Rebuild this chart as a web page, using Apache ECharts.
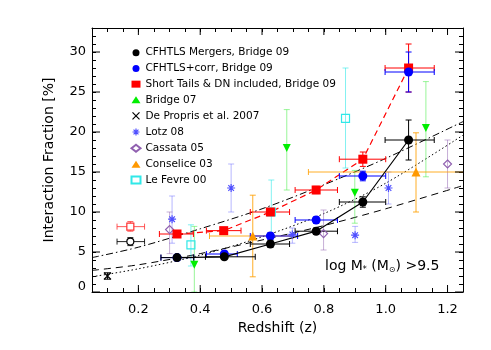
<!DOCTYPE html>
<html>
<head>
<meta charset="utf-8">
<script src="https://cdn.jsdelivr.net/npm/echarts@6/dist/echarts.min.js"></script>
<style>html,body{margin:0;padding:0;background:#fff}#c{width:491px;height:350px}</style>
</head>
<body>
<div id="c"></div>
<script>
// ---------- data ----------
// CFHTLS Mergers, Bridge 09 (black filled circles)
const blkZ   = [0.325, 0.478, 0.627, 0.775, 0.926, 1.074];
const blkF   = [4.3, 4.4, 6.0, 7.6, 11.25, 19.0];
const blkZlo = [0.273, 0.417, 0.562, 0.707, 0.850, 0.998];
const blkZhi = [0.379, 0.578, 0.689, 0.844, 1.000, 1.157];
const blkFlo = [4.0, 4.1, 5.6, 7.2, 10.6, 16.5];
const blkFhi = [4.6, 4.7, 6.4, 8.0, 11.9, 21.5];
// CFHTLS+corr, Bridge 09 (blue filled circles)
const bluZ   = [0.325, 0.478, 0.627, 0.775, 0.926, 1.074];
const bluF   = [4.3, 4.75, 7.0, 9.0, 14.5, 27.5];
const bluZlo = [0.273, 0.420, 0.562, 0.707, 0.850, 0.998];
const bluZhi = [0.379, 0.520, 0.715, 0.844, 1.000, 1.157];
const bluFlo = [4.0, 4.4, 6.6, 8.6, 13.9, 25.0];
const bluFhi = [4.6, 5.1, 7.4, 9.4, 15.1, 30.0];
// Short Tails & DN included, Bridge 09 (red squares)
const redZ   = [0.325, 0.476, 0.627, 0.775, 0.926, 1.074];
const redF   = [7.25, 7.67, 10.0, 12.75, 16.6, 28.0];
const redZlo = [0.268, 0.420, 0.562, 0.707, 0.850, 0.998];
const redZhi = [0.378, 0.532, 0.689, 0.844, 1.000, 1.157];
const redFlo = [6.9, 7.3, 9.6, 12.3, 15.7, 25.0];
const redFhi = [7.6, 8.0, 10.4, 13.2, 17.5, 31.0];
// local open symbols (z ~ 0.17)
const locRedZ = [0.174]; const locRedF = [8.17]; const locRedZlo = [0.131]; const locRedZhi = [0.220]; const locRedFlo = [7.6]; const locRedFhi = [8.8];
const locBlkZ = [0.174]; const locBlkF = [6.3];  const locBlkZlo = [0.131]; const locBlkZhi = [0.220]; const locBlkFlo = [5.8]; const locBlkFhi = [6.8];
// Bridge 07 (green down triangles)
const grnZ   = [0.381, 0.680, 0.900, 1.130];
const grnF   = [3.4, 18.0, 12.4, 20.5];
const grnFlo = [0.0, 12.75, 8.6, 14.4];
const grnFhi = [8.2, 22.8, 15.2, 26.3];
// De Propris et al. 2007 (black X)
const dpZ = [0.10]; const dpF = [2.0]; const dpFlo = [1.6]; const dpFhi = [2.4];
// Lotz 08 (blue asterisks)
const lotZ   = [0.309, 0.500, 0.698, 0.901, 1.009];
const lotF   = [9.1, 13.0, 7.2, 7.1, 13.0];
const lotFlo = [6.1, 10.0, 6.1, 6.2, 11.0];
const lotFhi = [12.0, 16.0, 8.0, 8.2, 15.0];
// Cassata 05 (purple open diamonds)
const casZ   = [0.301, 0.799, 1.200];
const casF   = [7.8, 7.3, 16.0];
const casFlo = [4.8, 5.25, 13.0];
const casFhi = [10.0, 10.25, 19.0];
// Conselice 03 (orange triangles)
const conZ   = [0.570, 1.098];
const conF   = [7.0, 15.0];
const conZlo = [0.430, 0.750];
const conZhi = [0.700, 1.450];
const conFlo = [1.9, 10.0];
const conFhi = [12.1, 19.9];
// Le Fevre 00 (cyan open squares)
const lfZ   = [0.370, 0.630, 0.870];
const lfF   = [5.9, 10.0, 21.7];
const lfFlo = [3.25, 6.0, 15.5];
const lfFhi = [8.4, 14.0, 28.0];
// model curves
const curveZ  = [0.05, 0.2, 0.4, 0.6, 0.8, 1.0, 1.25];
const dashDotF = [4.3, 5.6, 7.9, 10.4, 13.4, 16.7, 21.3];
const dottedF  = [1.9, 2.9, 4.6, 6.9, 9.8, 13.6, 19.6];
const dashedF  = [2.7, 3.4, 4.8, 6.5, 8.3, 10.4, 13.3];
// axis ticks
const xMajor = [0.2, 0.4, 0.6, 0.8, 1.0, 1.2];
const yMajor = [0, 5, 10, 15, 20, 25, 30];
const xMin = 0.05, xMax = 1.25, yMin = 0, yMax = 33;

// ---------- helpers ----------
const FONT = 'DejaVu Sans';
function zip() { const a = arguments; return a[0].map((_, i) => Array.from(a, arr => arr ? arr[i] : '-')); }
function errSeries(name, rows, color, opacity) {
  return {
    type: 'custom', name: name, clip: true, z: 2, silent: true,
    data: rows,
    encode: { x: 0, y: 1 },
    renderItem: function (params, api) {
      const x = api.value(0), y = api.value(1);
      const xl = api.value(2), xh = api.value(3), yl = api.value(4), yh = api.value(5);
      const st = { stroke: color, lineWidth: 1, opacity: opacity };
      const ch = []; const cap = 3;
      if (!isNaN(xl) && !isNaN(xh)) {
        const a = api.coord([xl, y]), b = api.coord([xh, y]);
        ch.push({ type: 'line', shape: { x1: a[0], y1: a[1], x2: b[0], y2: b[1] }, style: st });
        ch.push({ type: 'line', shape: { x1: a[0], y1: a[1] - cap, x2: a[0], y2: a[1] + cap }, style: st });
        ch.push({ type: 'line', shape: { x1: b[0], y1: b[1] - cap, x2: b[0], y2: b[1] + cap }, style: st });
      }
      if (!isNaN(yl) && !isNaN(yh)) {
        const a = api.coord([x, yl]), b = api.coord([x, yh]);
        ch.push({ type: 'line', shape: { x1: a[0], y1: a[1], x2: b[0], y2: b[1] }, style: st });
        ch.push({ type: 'line', shape: { x1: a[0] - cap, y1: a[1], x2: a[0] + cap, y2: a[1] }, style: st });
        ch.push({ type: 'line', shape: { x1: b[0] - cap, y1: b[1], x2: b[0] + cap, y2: b[1] }, style: st });
      }
      return { type: 'group', children: ch };
    }
  };
}
function pts(z, f) { return z.map((v, i) => [v, f[i]]); }
function scat(name, z, f, symbol, size, color, border, extra) {
  return Object.assign({
    type: 'scatter', name: name, data: pts(z, f), symbol: symbol, symbolSize: size, z: 5,
    itemStyle: { color: color, borderColor: border || color, borderWidth: border ? 1.2 : 0, opacity: 1 }
  }, extra || {});
}
const none = z => z.map(() => '-');

const X_SYM = 'path://M0,0L10,10M10,0L0,10';
const AST_SYM = 'path://M5,0L5,10M0,5L10,5M1.5,1.5L8.5,8.5M8.5,1.5L1.5,8.5';

const chart = echarts.init(document.getElementById('c'), null, { renderer: 'canvas' });
const grid = { left: 92, right: 28, top: 28, bottom: 58 };

const series = [
  { type: 'line', name: 'dashdot', data: pts(curveZ, dashDotF), symbol: 'none', z: 1, silent: true, smooth: 0.3,
    lineStyle: { color: '#000', width: 1, type: [7, 3, 1.5, 3] } },
  { type: 'line', name: 'dotted', data: pts(curveZ, dottedF), symbol: 'none', z: 1, silent: true, smooth: 0.3,
    lineStyle: { color: '#000', width: 1, type: [1.5, 2.5] } },
  { type: 'line', name: 'dashed', data: pts(curveZ, dashedF), symbol: 'none', z: 1, silent: true, smooth: 0.3,
    lineStyle: { color: '#000', width: 1, type: [7, 5] } },
  { type: 'line', name: 'redline', data: pts(redZ, redF), symbol: 'none', z: 1, silent: true,
    lineStyle: { color: '#ff0000', width: 1.2, type: [6, 4] } },
  { type: 'line', name: 'blkline', data: pts(blkZ, blkF), symbol: 'none', z: 3, silent: true,
    lineStyle: { color: '#000', width: 1.2 } },

  errSeries('e_grn', zip(grnZ, grnF, none(grnZ), none(grnZ), grnFlo, grnFhi), '#55ee55', 0.6),
  errSeries('e_lot', zip(lotZ, lotF, none(lotZ), none(lotZ), lotFlo, lotFhi), '#6060ff', 0.45),
  errSeries('e_cas', zip(casZ, casF, none(casZ), none(casZ), casFlo, casFhi), '#9060b0', 0.5),
  errSeries('e_con', zip(conZ, conF, conZlo, conZhi, conFlo, conFhi), '#ffa000', 0.85),
  errSeries('e_lf', zip(lfZ, lfF, none(lfZ), none(lfZ), lfFlo, lfFhi), '#30e8e8', 0.6),
  errSeries('e_dp', zip(dpZ, dpF, none(dpZ), none(dpZ), dpFlo, dpFhi), '#000', 1),
  errSeries('e_lr', zip(locRedZ, locRedF, locRedZlo, locRedZhi, locRedFlo, locRedFhi), '#ff3030', 0.8),
  errSeries('e_lb', zip(locBlkZ, locBlkF, locBlkZlo, locBlkZhi, locBlkFlo, locBlkFhi), '#000', 0.85),
  errSeries('e_red', zip(redZ, redF, redZlo, redZhi, redFlo, redFhi), '#ff0000', 1),
  errSeries('e_blu', zip(bluZ, bluF, bluZlo, bluZhi, bluFlo, bluFhi), '#0000ff', 1),
  errSeries('e_blk', zip(blkZ, blkF, blkZlo, blkZhi, blkFlo, blkFhi), '#000', 1),

  scat('local red', locRedZ, locRedF, 'rect', 7, '#fff', '#ff3030'),
  scat('local black', locBlkZ, locBlkF, 'circle', 7, '#fff', '#000'),
  scat('Bridge 07', grnZ, grnF, 'triangle', 8, '#00ee00', null, { symbolRotate: 180 }),
  scat('De Propris et al. 2007', dpZ, dpF, X_SYM, 7, 'none', '#000'),
  scat('Lotz 08', lotZ, lotF, AST_SYM, 8, 'none', '#5050ff'),
  scat('Cassata 05', casZ, casF, 'diamond', 8, 'none', '#9060b0'),
  scat('Conselice 03', conZ, conF, 'triangle', 9, '#ff9900'),
  scat('Le Fevre 00', lfZ, lfF, 'rect', 8, 'none', '#30e8e8'),
  scat('Short Tails & DN included, Bridge 09', redZ, redF, 'rect', 9, '#ff0000'),
  scat('CFHTLS+corr, Bridge 09', bluZ, bluF, 'circle', 9, '#0000ff'),
  scat('CFHTLS Mergers, Bridge 09', blkZ, blkF, 'circle', 9, '#000000'),

  // long (major) ticks on all four sides
  { type: 'custom', name: 'xmajor', silent: true, z: 6, clip: false,
    data: xMajor.map(v => [v, yMin]), encode: { x: 0, y: 1 },
    renderItem: function (params, api) {
      const cs = params.coordSys; const p = api.coord([api.value(0), yMin]);
      const st = { stroke: '#000', lineWidth: 1 };
      return { type: 'group', children: [
        { type: 'line', shape: { x1: p[0], y1: cs.y + cs.height, x2: p[0], y2: cs.y + cs.height - 7 }, style: st },
        { type: 'line', shape: { x1: p[0], y1: cs.y, x2: p[0], y2: cs.y + 7 }, style: st } ] };
    } },
  { type: 'custom', name: 'ymajor', silent: true, z: 6, clip: false,
    data: yMajor.map(v => [xMin, v]), encode: { x: 0, y: 1 },
    renderItem: function (params, api) {
      const cs = params.coordSys; const p = api.coord([xMin, api.value(1)]);
      const st = { stroke: '#000', lineWidth: 1 };
      return { type: 'group', children: [
        { type: 'line', shape: { x1: cs.x, y1: p[1], x2: cs.x + 8, y2: p[1] }, style: st },
        { type: 'line', shape: { x1: cs.x + cs.width, y1: p[1], x2: cs.x + cs.width - 8, y2: p[1] }, style: st } ] };
    } }
];

const isMult = (v, m) => Math.abs(v / m - Math.round(v / m)) < 1e-6;
const axisCommon = {
  axisLine: { show: true, onZero: false, lineStyle: { color: '#000', width: 1 } },
  axisTick: { show: true, inside: true, length: 4, lineStyle: { color: '#000', width: 1 } },
  splitLine: { show: false }
};
const legendNames = ['CFHTLS Mergers, Bridge 09', 'CFHTLS+corr, Bridge 09', 'Short Tails & DN included, Bridge 09',
  'Bridge 07', 'De Propris et al. 2007', 'Lotz 08', 'Cassata 05', 'Conselice 03', 'Le Fevre 00'];

chart.setOption({
  animation: false,
  backgroundColor: '#fff',
  grid: grid,
  legend: {
    orient: 'vertical', left: 124, top: 42,
    itemWidth: 9, itemHeight: 7, itemGap: 4.2,
    textStyle: { fontFamily: FONT, fontSize: 10.5, color: '#000', lineHeight: 11.5 },
    data: legendNames.map(n => {
      if (n === 'Lotz 08') return { name: n, icon: AST_SYM, itemStyle: { color: 'none', borderColor: '#5050ff', borderWidth: 1.2 } };
      if (n === 'De Propris et al. 2007') return { name: n, icon: X_SYM, itemStyle: { color: 'none', borderColor: '#000', borderWidth: 1.2 } };
      return n;
    }),
    selectedMode: false
  },
  xAxis: [
    Object.assign({}, axisCommon, {
      type: 'value', min: xMin, max: xMax, interval: 0.05, position: 'bottom',
      name: 'Redshift (z)', nameLocation: 'middle', nameGap: 29,
      nameTextStyle: { fontFamily: FONT, fontSize: 14, color: '#000' },
      axisLabel: { margin: 11, fontFamily: FONT, fontSize: 13, color: '#000',
        formatter: v => (isMult(v, 0.2) && v > 0.1) ? v.toFixed(1) : '' }
    }),
    Object.assign({}, axisCommon, {
      type: 'value', min: xMin, max: xMax, interval: 0.05, position: 'top',
      axisLabel: { show: false }
    })
  ],
  yAxis: [
    Object.assign({}, axisCommon, {
      type: 'value', min: yMin, max: yMax, interval: 1, position: 'left',
      name: 'Interaction Fraction [%]', nameLocation: 'middle', nameGap: 36, nameRotate: 90,
      nameTextStyle: { fontFamily: FONT, fontSize: 14, color: '#000' },
      axisLabel: { margin: 6, fontFamily: FONT, fontSize: 13, color: '#000',
        formatter: v => v === 0 ? '{z|0}' : (isMult(v, 5) ? String(v) : ''),
        rich: { z: { fontFamily: FONT, fontSize: 13, color: '#000', padding: [0, 0, 11, 0] } } }
    }),
    Object.assign({}, axisCommon, {
      type: 'value', min: yMin, max: yMax, interval: 1, position: 'right',
      axisLabel: { show: false }
    })
  ],
  graphic: [{
    type: 'text', left: 325, top: 259,
    style: {
      text: 'log M{s|*} (M{s|⊙}) >9.5',
      font: '14px "DejaVu Sans"', fill: '#000',
      rich: { s: { fontFamily: FONT, fontSize: 8, verticalAlign: 'bottom', padding: [7, 0, 0, 0] } }
    }
  }],
  series: series
});
</script>
</body>
</html>
